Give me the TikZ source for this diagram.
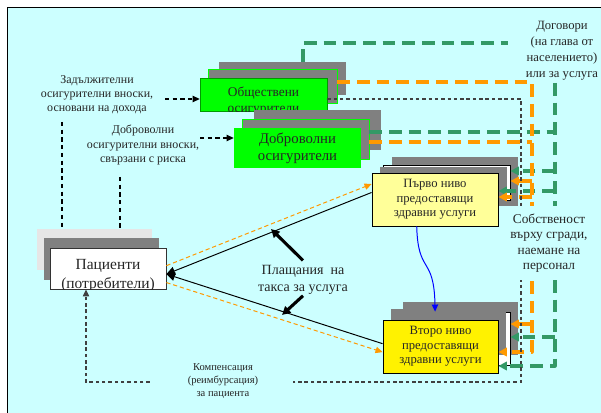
\documentclass[tikz,border=0pt]{standalone}
\usepackage{fontspec}
\setmainfont{Liberation Serif}
\usetikzlibrary{arrows.meta}

\definecolor{bgcyan}{HTML}{CCFFFF}
\definecolor{boxgreen}{HTML}{00FF00}
\definecolor{boxgray}{HTML}{808080}
\definecolor{palegray}{HTML}{E6E6E6}
\definecolor{paleyellow}{HTML}{FFFF99}
\definecolor{contractgreen}{HTML}{339966}
\definecolor{payorange}{HTML}{FF9900}

\tikzset{
  boxsize/.style 2 args={minimum width=#1*0.025cm,minimum height=#2*0.025cm},
  layer/.style={fill=boxgray,draw=none,inner sep=0pt},
  greenbox/.style={fill=boxgreen,draw=green!60!black,line width=0.4pt,inner sep=0pt},
  provbox/.style={draw=black,line width=0.6pt,inner sep=0pt},
  label text/.style={align=center,inner sep=0pt,text=black!85},
  contract/.style={draw=contractgreen,line width=2.2pt,dash pattern=on 9pt off 5pt,line join=round},
  payline/.style={draw=payorange,line width=2.2pt,dash pattern=on 9pt off 5pt,line join=round},
  wide tip/.style={-{Triangle[length=6pt,width=6pt]}},
  thin tip/.style={-{Triangle[length=5pt,width=4.5pt]}},
  patient pay/.style={draw=payorange,line width=0.7pt,dash pattern=on 3pt off 2pt},
  fee line/.style={draw=black,line width=0.7pt},
  contrib/.style={draw=black,line width=0.8pt,dash pattern=on 3pt off 2.5pt},
  refund/.style={draw=black!75,line width=0.8pt,dash pattern=on 2.5pt off 2pt},
}

\begin{document}
\begin{tikzpicture}[x=0.025cm,y=-0.025cm]
            \clip (0,0) rectangle (601,413);
            
            % Background with frame
            \fill [white] (0,0) rectangle (601,413);%
            \draw [line width=1.1pt,fill=bgcyan] (7.5,7.5) rectangle (625,430);%
            
            % Stack of public insurers
            \draw (282.5,78.5) node [layer,boxsize={127}{33}] (pubA) {};%
            \draw (272.5,86) node [layer,draw=boxgreen,line width=0.5pt,boxsize={129}{34}] (pubB) {};%
            \draw (263.5,94.5) node [greenbox,boxsize={127}{33}] (pub) {};%
            \begin{scope}
            \clip (pub.south west) rectangle (pub.north east);%
            \draw (263.5,101) node [label text,font=\fontsize{9.5}{11.5}\selectfont] {Обществени\\осигурители};%
            \end{scope}
            
            % Stack of voluntary insurers
            \draw (317.5,130) node [layer,boxsize={127}{40}] (volA) {};%
            \draw (305.5,139) node [layer,draw=boxgreen,line width=0.5pt,boxsize={127}{40}] (volB) {};%
            \draw (297.5,148) node [greenbox,draw=none,boxsize={127}{40},label text,font=\fontsize{10.5}{12}\selectfont] (vol) {Доброволни\\осигурители};%
            
            % Stack of patients
            \draw (94.5,249.5) node [layer,fill=palegray,boxsize={115}{41}] (patA) {};%
            \draw (101.5,259) node [layer,boxsize={115}{42}] (patB) {};%
            \draw (108,268.5) node [provbox,fill=white,draw=black!80,boxsize={116}{41}] (pat) {};%
            \begin{scope}
            \clip (pat.south west) rectangle (pat.north east);%
            \draw (108,275.5) node [label text,font=\fontsize{11}{13}\selectfont] {Пациенти\\(потребители)};%
            \end{scope}
            
            % Stack of first level providers
            \draw (455,181.5) node [layer,boxsize={126}{49}] (firstA) {};%
            \draw (446.5,182.5) node [provbox,fill=white,boxsize={127}{35}] (firstB) {};%
            \draw (443.5,185) node [layer,boxsize={127}{36}] (firstC) {};%
            \draw (435,199.5) node [provbox,fill=paleyellow,boxsize={126}{53},label text,font=\fontsize{9}{10.2}\selectfont] (first) {Първо ниво\\предоставящи\\здравни услуги};%
            
            % Stack of second level providers
            \draw (460.5,328.5) node [layer,boxsize={115}{53}] (secA) {};%
            \draw (452,338.5) node [provbox,fill=white,boxsize={116}{53}] (secB) {};%
            \draw (448.5,332) node [layer,boxsize={115}{46}] (secC) {};%
            \draw (440.5,346.5) node [provbox,fill=yellow,boxsize={115}{53},label text,font=\fontsize{9}{10.2}\selectfont] (sec) {Второ ниво\\предоставящи\\здравни услуги};%
            
            % Free texts
            \draw (97,95) node [label text,font=\fontsize{8.5}{10}\selectfont] (mand) {Задължителни\\осигурителни вноски,\\основани на дохода};%
            \draw (143,145) node [label text,font=\fontsize{8.5}{10}\selectfont] (volt) {Доброволни\\осигурителни вноски,\\свързани с риска};%
            \draw (303,279.5) node [label text,inner sep=1pt,font=\fontsize{10}{12}\selectfont] (pay) {Плащания\ \ на\\такса за услуга};%
            
            % Points of the trunks
            \coordinate (gstart) at (303,43);%
            \coordinate (gend) at (508,43);%
            \coordinate (gtrunk) at (555,83);%
            \coordinate (gvol) at (555,132);%
            \coordinate (gone) at (555,171);%
            \coordinate (gtwo) at (555,191);%
            \coordinate (gthree) at (555,337);%
            \coordinate (gfoot) at (555,366);%
            \coordinate (otop) at (532,82);%
            \coordinate (ovol) at (532,142);%
            \coordinate (oone) at (532,181);%
            \coordinate (otwo) at (532,197);%
            \coordinate (othree) at (532,324);%
            \coordinate (ofoot) at (532,352);%
            \coordinate (rtop) at (521,99);%
            \coordinate (rfoot) at (521,382);%
            \coordinate (rleft) at (86,382);%
            \coordinate (mstart) at (165,99);%
            \coordinate (vstart) at (200,138);%
            \coordinate (mdown) at (62,122);%
            \coordinate (vdown) at (120,177);%
            
            % Drawing contracts (green)
            \draw [contract] (gstart |- pubA.north) -- (gstart) -- (gend);%
            \draw [contract,wide tip] (gtrunk) -- (gfoot) -- (gfoot -| sec.east);%
            \draw [contract] (volB.east |- gvol) -- (gvol);%
            \draw [contract,wide tip] (gone) -- (gone -| firstB.east);%
            \draw [contract,wide tip] (gtwo) -- (gtwo -| first.east);%
            \draw [contract,wide tip] (gthree) -- (gthree -| secB.east);%
            
            % Drawing payments (orange)
            \draw [payline,wide tip] (pubB.east |- otop) -- (otop) -- (ofoot) -- (ofoot -| sec.east);%
            \draw [payline] (volB.east |- ovol) -- (ovol);%
            \draw [payline,wide tip] (oone) -- (oone -| firstB.east);%
            \draw [payline,wide tip] (otwo) -- (otwo -| first.east);%
            \draw [payline,wide tip] (othree) -- (othree -| secB.east);%
            
            % Drawing refund path
            \draw [refund,thin tip] (pub.east |- rtop) -- (rtop) -- (rfoot) -- (rleft) -- (rleft |- pat.south);%
            
            % Drawing contributions
            \draw [contrib,thin tip] (mstart) -- (mstart -| pub.west);%
            \draw [contrib,thin tip] (vstart) -- (vstart -| vol.west);%
            \draw [contrib] (mdown) -- (mdown |- patA.north);%
            \draw [contrib] (vdown) -- (vdown |- patA.north);%
            
            % Drawing fees between patients and providers
            \draw [fee line,wide tip] ([yshift=5pt]first.west) -- ([yshift=-4pt]pat.east);%
            \draw [fee line,wide tip] ([yshift=2pt]sec.west) -- ([yshift=-4pt]pat.east);%
            \draw [patient pay,thin tip] ([yshift=2pt]pat.east) -- ([yshift=11pt]first.west);%
            \draw [patient pay,thin tip] ([yshift=-10pt]pat.east) -- ([yshift=-4pt]sec.west);%
            \draw [line width=2.2pt,wide tip] ([yshift=2pt]pay.north) -- (271,229);%
            \draw [line width=2.2pt,wide tip] (pay.south) -- (282,315);%
            
            % Drawing referral
            \draw [blue,line width=0.7pt,thin tip] ([xshift=-13pt]first.south) .. controls (418,275) and (434,255) .. ([xshift=-12pt]secB.north);%
            
            % Labels over the trunks
            \draw (562,51) node [label text,fill=bgcyan,minimum width=2.7cm,font=\fontsize{9}{11.3}\selectfont] (contracts) {Договори\\(на глава от\\населението)\\или за услуга};%
            \draw (549,243) node [label text,fill=bgcyan,minimum width=2cm,minimum height=1.85cm,font=\fontsize{9.5}{11}\selectfont] (property) {Собственост\\върху сгради,\\наемане на\\персонал};%
            \draw (223,381) node [label text,fill=bgcyan,minimum width=3.5cm,font=\fontsize{7.5}{9.3}\selectfont] (comp) {Компенсация\\(реимбурсация)\\за пациента};%
        \end{tikzpicture}
\end{document}
